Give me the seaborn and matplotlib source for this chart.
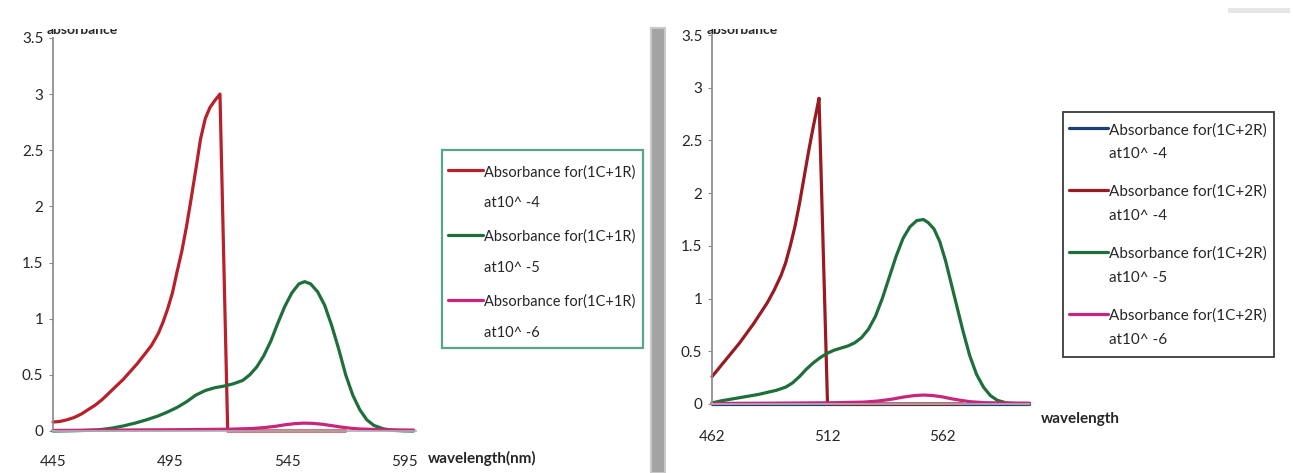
import matplotlib
matplotlib.use("Agg")
import matplotlib.pyplot as plt
import matplotlib.patches as mpatches
from matplotlib.lines import Line2D
from matplotlib.legend_handler import HandlerLine2D
from matplotlib.ticker import FuncFormatter
import seaborn as sns

# ---- left panel (1C+1R) ----
l_red_x = [445, 448, 451, 454, 457, 460, 463, 466, 469, 472, 475, 478, 481, 484, 487, 490, 492, 494, 496,
           498, 500, 502, 504, 506, 508, 510, 512, 514, 516.3, 519.6, 530, 545, 560, 570]
l_red_y = [0.08, 0.085, 0.1, 0.12, 0.15, 0.19, 0.23, 0.28, 0.34, 0.4, 0.46, 0.53, 0.6, 0.68, 0.76, 0.87,
           0.97, 1.09, 1.23, 1.42, 1.6, 1.82, 2.07, 2.33, 2.6, 2.78, 2.88, 2.94, 3.0, 0.0, 0.0, 0.0, 0.0, 0.0]
l_green_x = [445, 450, 455, 460, 465, 470, 475, 480, 485, 490, 494, 498, 502, 506, 510, 514, 518, 522, 526,
             529, 532, 535, 538, 541, 544, 547, 550, 552.5, 555, 558, 561, 564, 567, 570, 573, 576, 579,
             582, 586, 590, 595, 599]
l_green_y = [0.0, 0.001, 0.003, 0.006, 0.012, 0.025, 0.045, 0.07, 0.1, 0.135, 0.17, 0.21, 0.26, 0.32, 0.36,
             0.385, 0.4, 0.42, 0.45, 0.5, 0.57, 0.67, 0.8, 0.96, 1.11, 1.23, 1.31, 1.33, 1.31, 1.24, 1.12,
             0.94, 0.73, 0.5, 0.32, 0.19, 0.1, 0.05, 0.02, 0.006, 0.001, 0.0]
l_mag_x = [445, 470, 500, 520, 530, 536, 540, 544, 548, 552, 556, 560, 564, 568, 572, 576, 585, 599]
l_mag_y = [0.005, 0.008, 0.012, 0.016, 0.022, 0.032, 0.042, 0.055, 0.065, 0.07, 0.068, 0.06, 0.048, 0.035,
           0.025, 0.018, 0.012, 0.008]
l_labels = ["Absorbance for(1C+1R)\nat10^ -4", "Absorbance for(1C+1R)\nat10^ -5", "Absorbance for(1C+1R)\nat10^ -6"]
l_xticks = [445, 495, 545, 595]

# ---- right panel (1C+2R) ----
r_blue_x = [462, 600]
r_blue_y = [0.0, 0.0]
r_red_x = [462, 465, 468, 471, 474, 477, 480, 483, 486, 489, 492, 494, 496, 498, 500, 502, 504, 506,
           507.5, 508.5, 512.2, 530, 550, 571]
r_red_y = [0.26, 0.34, 0.42, 0.5, 0.58, 0.67, 0.76, 0.86, 0.96, 1.08, 1.22, 1.34, 1.5, 1.68, 1.9, 2.15,
           2.4, 2.63, 2.79, 2.9, 0.0, 0.0, 0.0, 0.0]
r_green_x = [462, 466, 470, 474, 478, 482, 486, 490, 494, 497, 500, 503, 506, 509, 512, 515, 518, 521, 524,
             527, 530, 533, 536, 539, 542, 545, 548, 551, 553.9, 556, 558.5, 561, 563.5, 566, 568.5, 571,
             574, 577, 580, 583, 586, 590, 595, 600]
r_green_y = [0.01, 0.03, 0.045, 0.06, 0.075, 0.09, 0.11, 0.13, 0.16, 0.2, 0.26, 0.33, 0.39, 0.44, 0.48,
             0.51, 0.53, 0.55, 0.58, 0.63, 0.71, 0.83, 1.0, 1.2, 1.4, 1.57, 1.68, 1.74, 1.75, 1.72, 1.66,
             1.54, 1.36, 1.14, 0.92, 0.7, 0.46, 0.28, 0.16, 0.08, 0.035, 0.01, 0.002, 0.0]
r_mag_x = [462, 490, 515, 528, 534, 540, 545, 550, 554, 558, 562, 566, 570, 574, 580, 590, 600]
r_mag_y = [0.005, 0.008, 0.012, 0.018, 0.028, 0.045, 0.065, 0.08, 0.085, 0.08, 0.068, 0.05, 0.035, 0.022,
           0.013, 0.009, 0.008]
r_labels = ["Absorbance for(1C+2R)\nat10^ -4", "Absorbance for(1C+2R)\nat10^ -4",
            "Absorbance for(1C+2R)\nat10^ -5", "Absorbance for(1C+2R)\nat10^ -6"]
r_xticks = [462, 512, 562]

yticks = [0, 0.5, 1, 1.5, 2, 2.5, 3, 3.5]

C_RED_L = "#b8202a"
C_RED_R = "#9a1a22"
C_GREEN = "#1f6f3a"
C_MAG = "#c8267e"
C_BLUE = "#1f3f7a"
TXT = "#262626"


class TopLineHandler(HandlerLine2D):
    # put the legend line next to the first text line instead of the middle
    def __init__(self, shift, **kw):
        super().__init__(**kw)
        self.shift = shift

    def create_artists(self, legend, orig_handle, xdescent, ydescent, width, height, fontsize, trans):
        arts = super().create_artists(legend, orig_handle, xdescent, ydescent, width, height, fontsize, trans)
        for a in arts:
            a.set_ydata([v + self.shift for v in a.get_ydata()])
        return arts


sns.set_theme(style="white")
plt.rcParams['font.family'] = ['Lato', 'DejaVu Sans']

fig = plt.figure(figsize=(12.93, 4.73), dpi=100)
ax1 = fig.add_axes([0.041, 0.0888, 0.2807, 0.831])
ax2 = fig.add_axes([0.5507, 0.1459, 0.2455, 0.780])

lw = 2.3
sns.lineplot(x=l_red_x, y=l_red_y, ax=ax1, color=C_RED_L, linewidth=lw, label=l_labels[0], sort=False)
sns.lineplot(x=l_green_x, y=l_green_y, ax=ax1, color=C_GREEN, linewidth=lw, label=l_labels[1], sort=False)
sns.lineplot(x=l_mag_x, y=l_mag_y, ax=ax1, color=C_MAG, linewidth=lw, label=l_labels[2], sort=False)

sns.lineplot(x=r_blue_x, y=r_blue_y, ax=ax2, color=C_BLUE, linewidth=lw, label=r_labels[0], sort=False)
sns.lineplot(x=r_red_x, y=r_red_y, ax=ax2, color=C_RED_R, linewidth=lw, label=r_labels[1], sort=False)
sns.lineplot(x=r_green_x, y=r_green_y, ax=ax2, color=C_GREEN, linewidth=lw, label=r_labels[2], sort=False)
sns.lineplot(x=r_mag_x, y=r_mag_y, ax=ax2, color=C_MAG, linewidth=lw, label=r_labels[3], sort=False)

fmt = FuncFormatter(lambda v, p: f"{v:g}")
for ax, xt, xl, xpad in [(ax1, l_xticks, (445, 600), 11), (ax2, r_xticks, (462, 600), 13)]:
    for ln in ax.get_lines():
        ln.set_clip_on(False)
    ax.set_xlim(*xl)
    ax.set_ylim(0, 3.5)
    ax.set_xticks(xt)
    ax.set_yticks(yticks)
    ax.yaxis.set_major_formatter(fmt)
    ax.set_xlabel("")
    ax.set_ylabel("")
    sns.despine(ax=ax)
    ax.spines['left'].set_color('#8c8c8c')
    ax.spines['bottom'].set_color('#b0b0b0')
    ax.tick_params(axis='y', left=True, length=3, width=0.8, color='#8c8c8c', pad=4,
                   labelsize=11, labelcolor=TXT)
    ax.tick_params(axis='x', bottom=False, pad=xpad, labelsize=11, labelcolor=TXT)
    ax.set_facecolor('white')

ax1.text(1.033, -0.069, "wavelength(nm)", transform=ax1.transAxes, fontsize=11, color=TXT,
         fontweight='bold', ha='left', va='center')
ax2.text(1.035, -0.04, "wavelength", transform=ax2.transAxes, fontsize=11, color=TXT,
         fontweight='bold', ha='left', va='center')

# legends (frames drawn separately so the box matches the reference)
leg1 = ax1.legend(loc='upper left', bbox_to_anchor=(448 / 1293, 1 - 165 / 473), bbox_transform=fig.transFigure,
                  fontsize=10.5, frameon=False, handlelength=2.4, handletextpad=0.05,
                  labelspacing=1.35, borderpad=0, borderaxespad=0,
                  handler_map={Line2D: TopLineHandler(12.6)})
for t in leg1.get_texts():
    t.set_color(TXT)
    t.set_linespacing(2.52)

leg2 = ax2.legend(loc='upper left', bbox_to_anchor=(1069 / 1293, 1 - 123 / 473), bbox_transform=fig.transFigure,
                  fontsize=11, frameon=False, handlelength=2.55, handletextpad=0.05,
                  labelspacing=1.53, borderpad=0, borderaxespad=0,
                  handler_map={Line2D: TopLineHandler(10.0)})
for t in leg2.get_texts():
    t.set_color(TXT)
    t.set_linespacing(1.92)

fig.patches.append(mpatches.Rectangle((442 / 1293, 1 - 348 / 473), 201 / 1293, 198 / 473,
                                      transform=fig.transFigure, facecolor='none',
                                      edgecolor='#5aa58a', linewidth=1.6))
fig.patches.append(mpatches.Rectangle((1063 / 1293, 1 - 357 / 473), 211 / 1293, 245 / 473,
                                      transform=fig.transFigure, facecolor='none',
                                      edgecolor='#3c3c3c', linewidth=1.3))

# partly hidden "absorbance" axis titles at the top
fig.text(47 / 1293, 1 - 30 / 473, "absorbance", fontsize=10, fontweight='bold', color=TXT,
         ha='left', va='center')
fig.text(707 / 1293, 1 - 30 / 473, "absorbance", fontsize=10, fontweight='bold', color=TXT,
         ha='left', va='center')
fig.patches.append(mpatches.Rectangle((0, 1 - 29 / 473), 1, 29 / 473, transform=fig.transFigure,
                                      facecolor='white', edgecolor='none', zorder=5))

# grey separator bar between the panels
fig.patches.append(mpatches.Rectangle((651 / 1293, 0), 14 / 1293, 1 - 28 / 473, transform=fig.transFigure,
                                      facecolor='#a3a3a3', edgecolor='#c8c8c8', linewidth=1.5, zorder=6))
fig.patches.append(mpatches.Rectangle((1228 / 1293, 1 - 13 / 473), 62 / 1293, 5 / 473,
                                      transform=fig.transFigure, facecolor='#e6e6e6', edgecolor='none', zorder=6))

fig.savefig("out.png", dpi=100, facecolor='white')
